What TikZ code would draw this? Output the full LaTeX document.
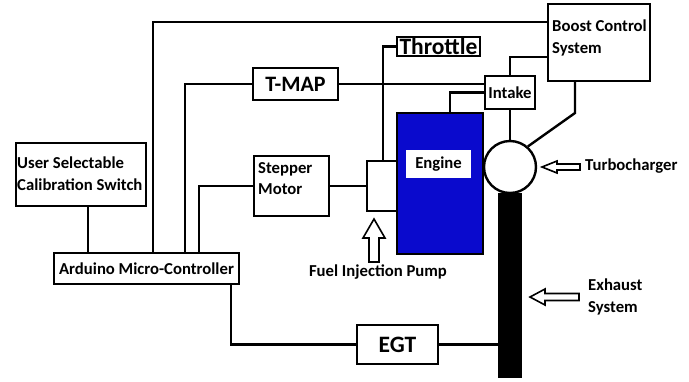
\documentclass[tikz,border=0pt]{standalone}
\usepackage{fontspec}
\setmainfont{Carlito}
\begin{document}
\begin{tikzpicture}[x=1pt,y=-1pt,
  every node/.style={font=\bfseries\fontsize{16.7}{21.5}\selectfont},
  box/.style={draw,line width=2.4pt,rectangle,inner sep=0pt,fill=white},
  wire/.style={line width=2.4pt},
  blockarrow/.style={draw,line width=1.6pt,fill=white,line join=miter},
  big/.style={font=\bfseries\fontsize{23.5}{25}\selectfont}]
\useasboundingbox (0,0) rectangle (689,381);
\definecolor{engblue}{RGB}{10,10,205}

% nodes
\node[box,minimum width=130pt,minimum height=63pt] (user) at (81,174.5) {};
\node[anchor=north west,align=left,inner sep=0pt] (usertxt) at (17,157) {User Selectable\\Calibration Switch};
\node[box,minimum width=185pt,minimum height=31pt] (arduino) at (146.5,268.5) {Arduino Micro-Controller};
\node[box,minimum width=85pt,minimum height=32pt,font=\bfseries\fontsize{22}{24}\selectfont] (tmap) at (295.5,84) {T-MAP};
\node[box,minimum width=75pt,minimum height=60pt] (stepper) at (291.5,186) {};
\node[anchor=north west,align=left,inner sep=0pt] (steptxt) at (258,162) {Stepper\\Motor};
\node[box,minimum width=30pt,minimum height=50pt] (pump) at (382,186) {};
\node[box,fill=engblue,minimum width=86pt,minimum height=141pt] (engine) at (440,183.5) {};
\node[fill=white,minimum width=65pt,minimum height=28pt,inner sep=0pt] (englabel) at (438.5,164) {Engine};
\node[box,minimum width=83pt,minimum height=19pt,big] (throttle) at (438.5,46.5) {Throttle};
\node[box,minimum width=102pt,minimum height=77pt] (boost) at (599,42.5) {};
\node[anchor=north west,align=left,inner sep=0pt] (boosttxt) at (552,20) {Boost Control\\System};
\node[box,minimum width=50pt,minimum height=33pt] (intake) at (510,92.5) {Intake};
\node[draw,circle,line width=2.4pt,minimum size=52pt,inner sep=0pt] (turbo) at (510,167) {};
\node[fill=black,draw=black,minimum width=23pt,minimum height=184pt,inner sep=0pt,anchor=north] (exhaust) at (510,193) {};
\node[box,minimum width=81pt,minimum height=39pt,big] (egt) at (397.5,344.5) {EGT};

% labels
\node[anchor=west,inner sep=0pt] (turbolbl) at (585,166) {Turbocharger};
\node[anchor=north west,align=left,inner sep=0pt] (exhlbl) at (588,279) {Exhaust\\System};
\node[inner sep=0pt] (pumplbl) at (378,272) {Fuel Injection Pump};

% bend coordinates
\coordinate (xa) at (153,22);
\coordinate (xu) at (88,0);
\coordinate (xt) at (185,0);
\coordinate (xs) at (199,0);
\coordinate (xe) at (231,0);
\coordinate (xth) at (383,0);
\coordinate (yb) at (0,57);
\coordinate (xi) at (450,0);
\coordinate (xb) at (575,113);

% connectors
\draw[wire] (xa |- arduino.north) -- (xa) -- (xa -| boost.west);
\draw[wire] (xu |- user.south) -- (xu |- arduino.north);
\draw[wire] (xt |- arduino.north) |- (tmap.west);
\draw[wire] (xs |- arduino.north) |- (stepper.west);
\draw[wire] (xe |- arduino.south) |- (egt.west);
\draw[wire] (egt.east) -- (egt.east -| exhaust.west);
\draw[wire] (stepper.east) -- (pump.west);
\draw[wire] (xth |- pump.north) |- (throttle.west);
\draw[wire] (tmap.east) -- (tmap.east -| intake.west);
\draw[wire] (boost.west |- yb) -| (intake.north);
\draw[wire] (intake.west) -| (xi |- engine.north);
\draw[wire] (intake.south) -- (turbo.north);
\draw[wire] (xb |- boost.south) -- (xb) -- (turbo.49);

% block arrows
\draw[blockarrow] (542,167) -- (557,161) -- (557,164) -- (580,164) -- (580,170) -- (557,170) -- (557,173) -- cycle;
\draw[blockarrow] (530,297) -- (545,289) -- (545,293.5) -- (579,293.5) -- (579,300.5) -- (545,300.5) -- (545,305) -- cycle;
\draw[blockarrow] (374,219) -- (385,238) -- (379,238) -- (379,262) -- (369,262) -- (369,238) -- (363,238) -- cycle;
\end{tikzpicture}
\end{document}
